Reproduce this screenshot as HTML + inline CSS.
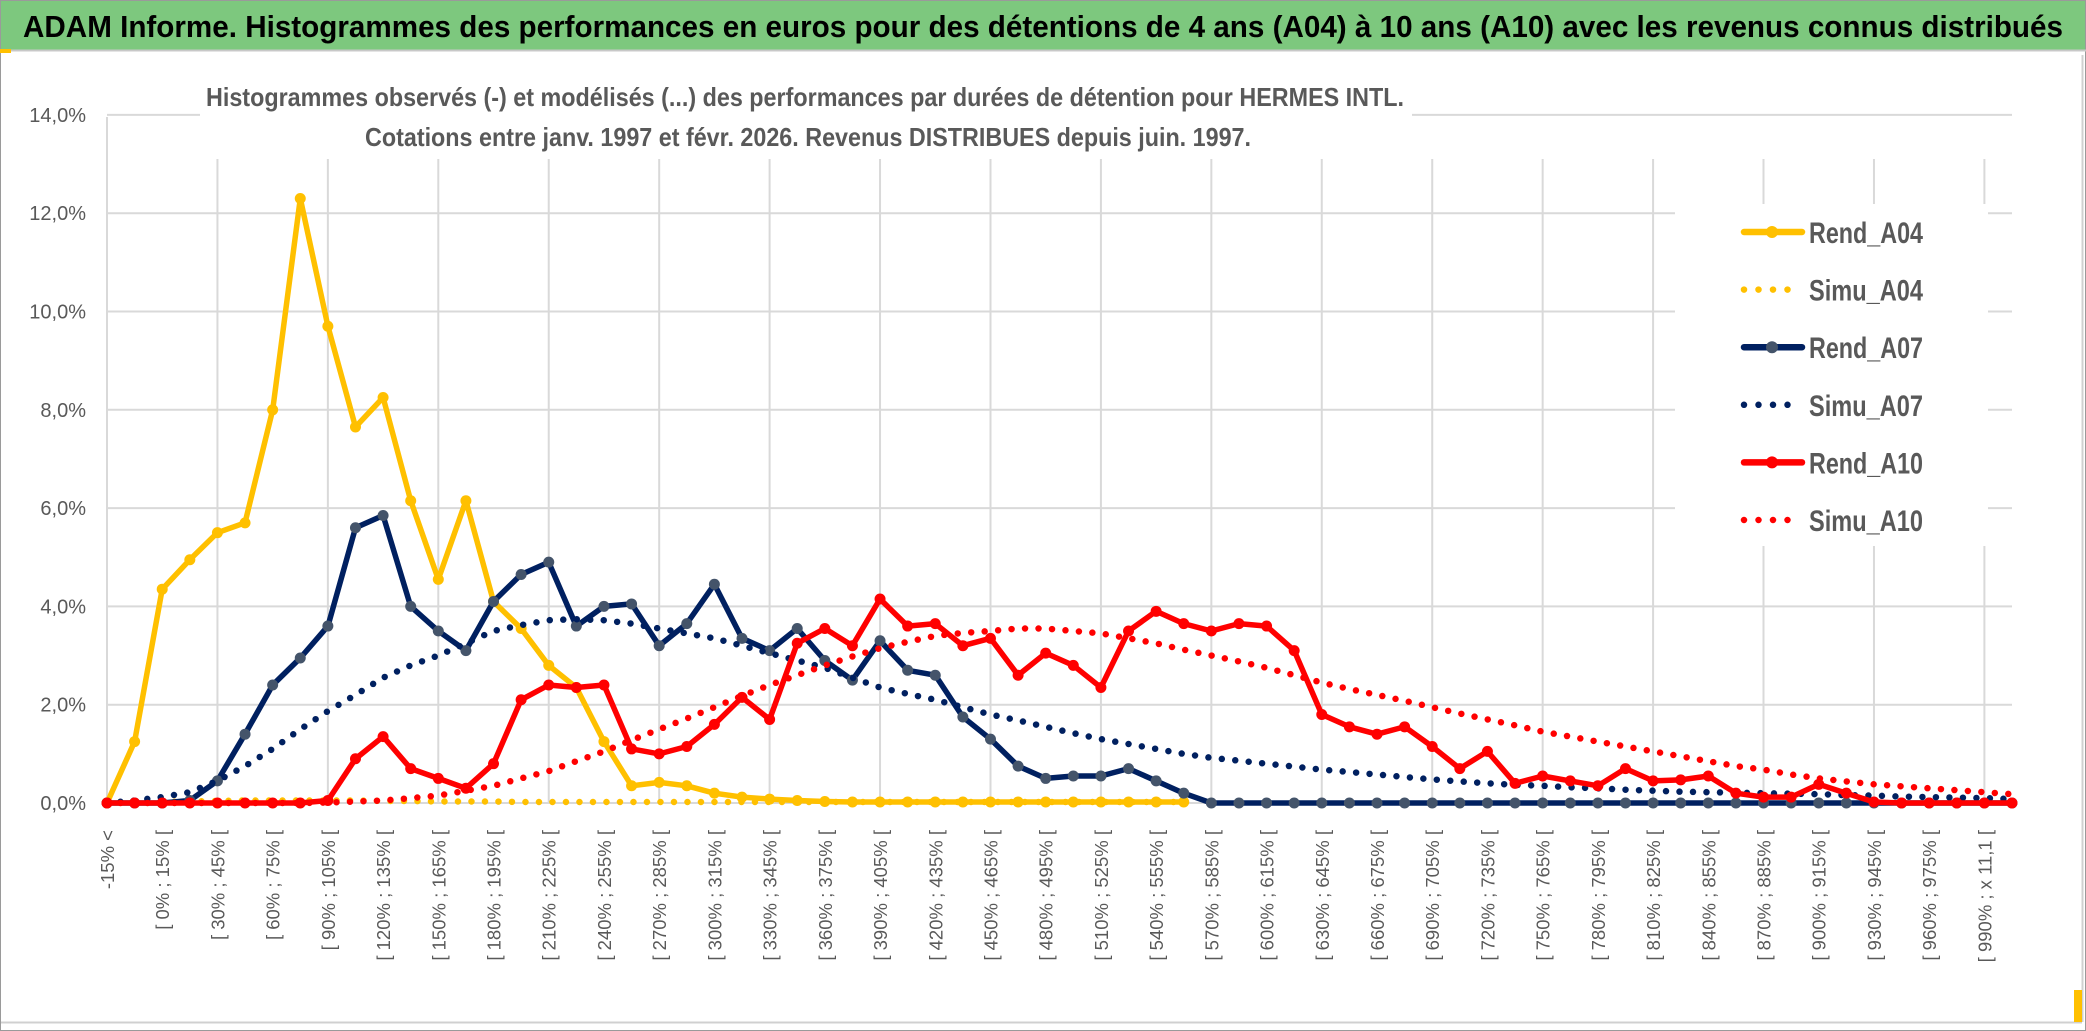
<!DOCTYPE html>
<html><head><meta charset="utf-8"><style>
html,body{margin:0;padding:0;background:#fff;}
svg{display:block;}
text{font-family:"Liberation Sans Narrow","Liberation Sans",sans-serif;}
</style></head><body>
<svg id="chart" width="2086" height="1031" viewBox="0 0 2086 1031" xmlns="http://www.w3.org/2000/svg">
<rect x="0.5" y="0.5" width="2085" height="1030" fill="#fff" stroke="#9a9a9a"/>
<rect x="1" y="1" width="2084" height="49" fill="#7dc87e"/>
<line x1="0" y1="50.5" x2="2086" y2="50.5" stroke="#c8c8c8" stroke-width="2"/>
<rect x="0" y="49" width="11" height="4" fill="#ffc000"/>
<text x="23" y="37" font-size="31" font-weight="bold" fill="#000" textLength="2040" lengthAdjust="spacingAndGlyphs">ADAM Informe. Histogrammes des performances en euros pour des détentions de 4 ans (A04) à 10 ans (A10) avec les revenus connus distribués</text>
<line x1="1" y1="1022.5" x2="2082" y2="1022.5" stroke="#d0d0d0" stroke-width="2"/>
<line x1="2082.5" y1="55" x2="2082.5" y2="1022" stroke="#d0d0d0" stroke-width="2"/>
<rect x="2074" y="990" width="8" height="32" fill="#ffc000"/>
<g id="grid"></g>
<g id="yaxis"></g>
<g id="xaxis"></g>
<rect x="200" y="58" width="1212" height="100" fill="#fff"/>
<text x="206" y="106" font-size="26" font-weight="bold" fill="#595959" textLength="1198" lengthAdjust="spacingAndGlyphs">Histogrammes observés (-) et modélisés (...) des performances par durées de détention pour HERMES INTL.</text>
<text x="365" y="146" font-size="26" font-weight="bold" fill="#595959" textLength="886" lengthAdjust="spacingAndGlyphs">Cotations entre janv. 1997 et févr. 2026. Revenus DISTRIBUES depuis juin. 1997.</text>
<g id="series"></g>
<rect x="1675" y="204" width="313" height="342" fill="#fff"/>
<g id="legend"></g>
</svg>
<script>
const categories = ["-15% <","[ -15% ; 0% [","[ 0% ; 15% [","[ 15% ; 30% [","[ 30% ; 45% [","[ 45% ; 60% [","[ 60% ; 75% [","[ 75% ; 90% [","[ 90% ; 105% [","[ 105% ; 120% [",
"[ 120% ; 135% [","[ 135% ; 150% [","[ 150% ; 165% [","[ 165% ; 180% [","[ 180% ; 195% [","[ 195% ; 210% [","[ 210% ; 225% [","[ 225% ; 240% [","[ 240% ; 255% [","[ 255% ; 270% [",
"[ 270% ; 285% [","[ 285% ; 300% [","[ 300% ; 315% [","[ 315% ; 330% [","[ 330% ; 345% [","[ 345% ; 360% [","[ 360% ; 375% [","[ 375% ; 390% [","[ 390% ; 405% [","[ 405% ; 420% [",
"[ 420% ; 435% [","[ 435% ; 450% [","[ 450% ; 465% [","[ 465% ; 480% [","[ 480% ; 495% [","[ 495% ; 510% [","[ 510% ; 525% [","[ 525% ; 540% [","[ 540% ; 555% [","[ 555% ; 570% [",
"[ 570% ; 585% [","[ 585% ; 600% [","[ 600% ; 615% [","[ 615% ; 630% [","[ 630% ; 645% [","[ 645% ; 660% [","[ 660% ; 675% [","[ 675% ; 690% [","[ 690% ; 705% [","[ 705% ; 720% [",
"[ 720% ; 735% [","[ 735% ; 750% [","[ 750% ; 765% [","[ 765% ; 780% [","[ 780% ; 795% [","[ 795% ; 810% [","[ 810% ; 825% [","[ 825% ; 840% [","[ 840% ; 855% [","[ 855% ; 870% [",
"[ 870% ; 885% [","[ 885% ; 900% [","[ 900% ; 915% [","[ 915% ; 930% [","[ 930% ; 945% [","[ 945% ; 960% [","[ 960% ; 975% [","[ 975% ; 990% [","[ 990% ; x 11,1 [","> x 11,1"];
const yTicks = [0,2,4,6,8,10,12,14];
const yTickLabels = ["0,0%","2,0%","4,0%","6,0%","8,0%","10,0%","12,0%","14,0%"];
const rendA04 = [0,1.25,4.35,4.95,5.5,5.7,8.0,12.3,9.7,7.65,8.25,6.15,4.55,6.15,4.1,3.55,2.8,2.35,1.25,0.35,0.42,0.35,0.2,0.12,0.08,0.05,0.03,0.02,0.02,0.02,0.02,0.02,0.02,0.02,0.02,0.02,0.02,0.02,0.02,0.02];
const simuA04 = [0,0.01,0.02,0.03,0.04,0.05,0.05,0.05,0.05,0.05,0.04,0.04,0.03,0.03,0.03,0.02,0.02,0.02,0.02,0.02,0.02,0.02,0.02,0.02,0.02,0.02,0.02,0.02,0.02,0.02,0.02,0.02,0.02,0.02,0.02,0.02,0.02,0.02,0.02,0.02];
const rendA07 = [0,0,0,0.05,0.45,1.4,2.4,2.95,3.6,5.6,5.85,4.0,3.5,3.1,4.1,4.65,4.9,3.6,4.0,4.05,3.2,3.65,4.45,3.35,3.1,3.55,2.9,2.5,3.3,2.7,2.6,1.75,1.3,0.75,0.5,0.55,0.55,0.7,0.45,0.2,0,0,0,0,0,0,0,0,0,0,0,0,0,0,0,0,0,0,0,0,0,0,0,0,0,0,0,0,0,0];
const simuA07 = [0,0.05,0.12,0.22,0.45,0.75,1.1,1.5,1.87,2.2,2.55,2.8,3.0,3.25,3.5,3.62,3.72,3.74,3.72,3.65,3.55,3.45,3.35,3.2,3.05,2.9,2.75,2.55,2.35,2.22,2.1,1.95,1.8,1.68,1.55,1.42,1.3,1.2,1.1,1.0,0.92,0.86,0.8,0.74,0.68,0.63,0.58,0.53,0.48,0.44,0.4,0.37,0.35,0.32,0.3,0.27,0.25,0.23,0.22,0.21,0.2,0.19,0.18,0.16,0.15,0.13,0.12,0.11,0.1,0.08];
const rendA10 = [0,0,0,0,0,0,0,0,0.05,0.9,1.35,0.7,0.5,0.3,0.8,2.1,2.4,2.35,2.4,1.1,1.0,1.15,1.6,2.15,1.7,3.25,3.55,3.2,4.15,3.6,3.65,3.2,3.35,2.6,3.05,2.8,2.35,3.5,3.9,3.65,3.5,3.65,3.6,3.1,1.8,1.55,1.4,1.55,1.15,0.7,1.05,0.4,0.55,0.45,0.35,0.7,0.45,0.47,0.55,0.2,0.12,0.12,0.38,0.2,0.02,0,0,0,0,0];
const simuA10 = [0,0,0,0,0,0,0,0,0.01,0.03,0.05,0.1,0.15,0.25,0.35,0.5,0.65,0.85,1.05,1.28,1.5,1.72,1.95,2.18,2.4,2.6,2.8,2.98,3.15,3.28,3.4,3.46,3.5,3.55,3.55,3.5,3.45,3.35,3.25,3.12,3.0,2.88,2.75,2.6,2.45,2.32,2.2,2.08,1.95,1.82,1.7,1.58,1.45,1.35,1.25,1.15,1.05,0.95,0.85,0.75,0.68,0.58,0.5,0.44,0.38,0.34,0.3,0.26,0.22,0.18];

const NS = "http://www.w3.org/2000/svg";
const X0 = 107, X1 = 2012, Y0 = 803, YPER = 49.15;
function xPos(i){ return X0 + i * (X1 - X0) / (categories.length - 1); }
function yPos(v){ return Y0 - v * YPER; }
function mk(tag, attrs, parent){ const e = document.createElementNS(NS, tag); for (const k in attrs) e.setAttribute(k, attrs[k]); parent.appendChild(e); return e; }

const grid = document.getElementById('grid');
yTicks.forEach((t, i) => {
  const l = mk('line', {x1: X0, x2: X1, y1: yPos(t), y2: yPos(t), stroke: '#d9d9d9', 'stroke-width': 2}, grid);
  
  
});
for (let i = 4; i < categories.length; i += 4) {
  const l = mk('line', {x1: xPos(i), x2: xPos(i), y1: 159, y2: Y0, stroke: '#d9d9d9', 'stroke-width': 2}, grid);
  
  
}
const ax = mk('line', {x1: X0, x2: X0, y1: 117, y2: Y0, stroke: '#d9d9d9', 'stroke-width': 2}, grid);



const yaxis = document.getElementById('yaxis');
yTicks.forEach((t, i) => {
  const tx = mk('text', {x: 86, y: yPos(t) + 7, 'font-size': 20, fill: '#595959', 'text-anchor': 'end'}, yaxis);
  tx.textContent = yTickLabels[i];
  
  
});

const xaxis = document.getElementById('xaxis');
categories.forEach((c, i) => {
  if (i % 2 !== 0) return;
  const x = xPos(i) + 7;
  const tx = mk('text', {x: x, y: 830, 'font-size': 18.5, fill: '#595959', 'text-anchor': 'end', transform: 'rotate(-90 ' + x + ' 830)', style: 'font-family:"Liberation Sans",sans-serif'}, xaxis);
  tx.textContent = c;
  
  
});

const series = document.getElementById('series');
function drawLine(vals, color, name){
  const pts = vals.map((v, i) => xPos(i).toFixed(1) + ',' + yPos(v).toFixed(1)).join(' ');
  const p = mk('polyline', {points: pts, fill: 'none', stroke: color, 'stroke-width': 5.5, 'stroke-linejoin': 'round', 'stroke-linecap': 'round'}, series);
  
  
}
function drawMarkers(vals, color, name){
  vals.forEach((v, i) => {
    const c = mk('circle', {cx: xPos(i), cy: yPos(v), r: 5.5, fill: color}, series);
    
    
  });
}
function drawDotted(vals, color, name){
  const pts = vals.map((v, i) => xPos(i).toFixed(1) + ',' + yPos(v).toFixed(1)).join(' ');
  const p = mk('polyline', {points: pts, fill: 'none', stroke: color, 'stroke-width': 6.5, 'stroke-dasharray': '0 13.5', 'stroke-linecap': 'round', 'stroke-linejoin': 'round'}, series);
  
  
}
drawLine(rendA04, '#ffc000', 'rend-a04'); drawMarkers(rendA04, '#ffc000', 'rend-a04');
drawDotted(simuA04, '#ffc000', 'simu-a04');
drawLine(rendA07, '#002060', 'rend-a07'); drawMarkers(rendA07, '#44546a', 'rend-a07');
drawDotted(simuA07, '#002060', 'simu-a07');
drawLine(rendA10, '#ff0000', 'rend-a10'); drawMarkers(rendA10, '#ff0000', 'rend-a10');
drawDotted(simuA10, '#ff0000', 'simu-a10');

const legendItems = [["Rend_A04","#ffc000","#ffc000",false],["Simu_A04","#ffc000","",true],["Rend_A07","#002060","#44546a",false],["Simu_A07","#002060","",true],["Rend_A10","#ff0000","#ff0000",false],["Simu_A10","#ff0000","",true]];
const legend = document.getElementById('legend');
legendItems.forEach((it, i) => {
  const y = 232 + i * 57.6;
  const g = mk('g', {}, legend);
  
  
  if (it[3]) {
    mk('line', {x1: 1744, x2: 1800, y1: y, y2: y, stroke: it[1], 'stroke-width': 6.5, 'stroke-dasharray': '0 14.5', 'stroke-linecap': 'round'}, g);
  } else {
    mk('line', {x1: 1744, x2: 1802, y1: y, y2: y, stroke: it[1], 'stroke-width': 6.5, 'stroke-linecap': 'round'}, g);
    mk('circle', {cx: 1772, cy: y, r: 6, fill: it[2]}, g);
  }
  const t = mk('text', {x: 1809, y: y + 11, 'font-size': 30, 'font-weight': 'bold', fill: '#595959', textLength: 114, lengthAdjust: 'spacingAndGlyphs'}, g);
  t.textContent = it[0];
});
</script>
</body></html>
